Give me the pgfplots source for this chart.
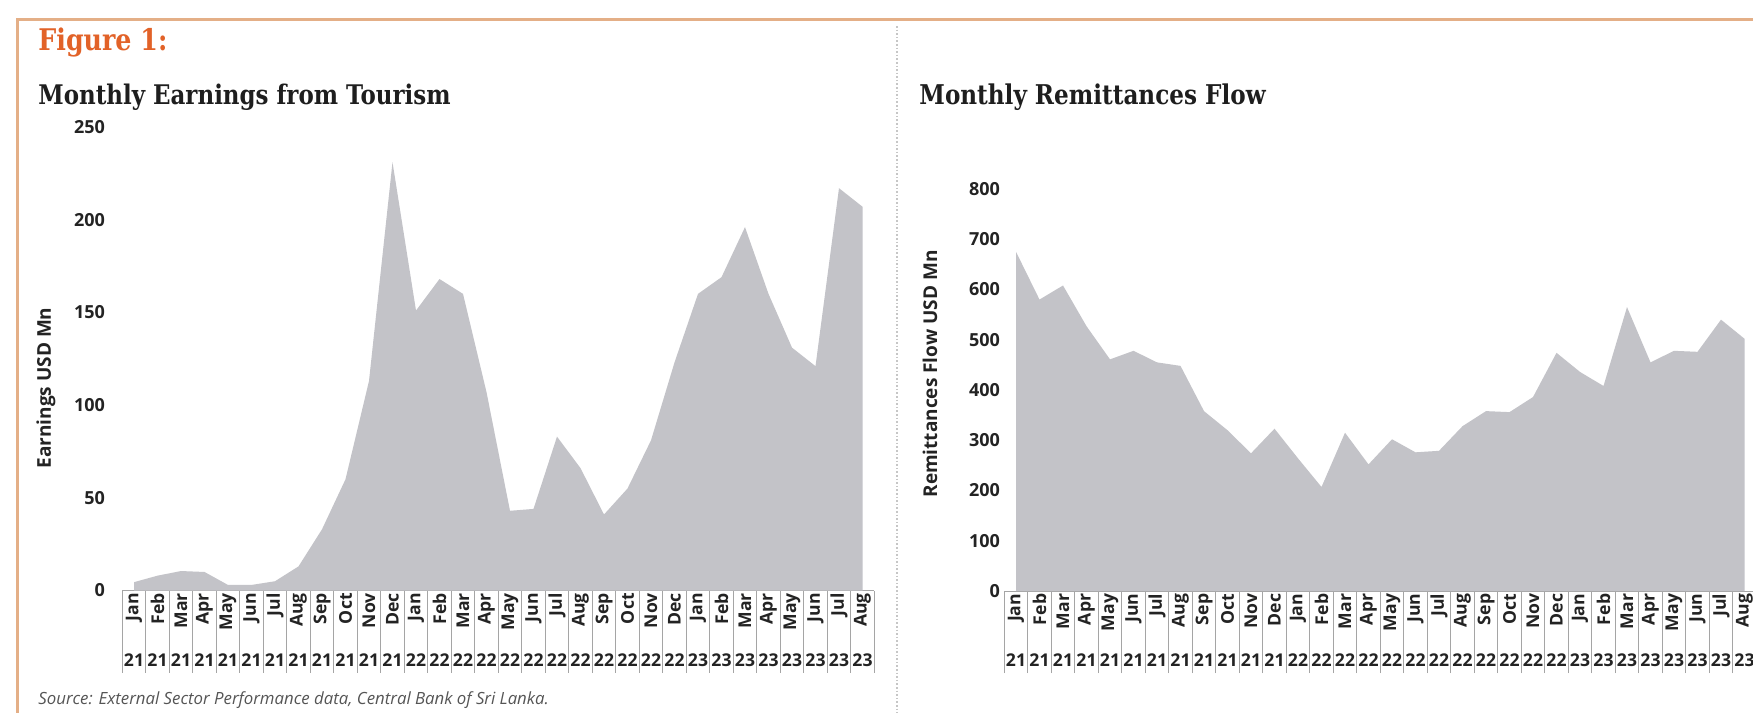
\documentclass[border=0pt]{standalone}
\usepackage{fontspec}
\setmainfont{Open Sans}
\newfontfamily\slab[FakeStretch=0.85]{DejaVu Serif}
\usepackage{pgfplots}
\pgfplotsset{compat=1.18}
\usepackage{pgfplotstable}

\definecolor{areac}{RGB}{195,195,200}
\definecolor{tickc}{RGB}{35,35,35}
\definecolor{titlec}{RGB}{30,30,30}
\definecolor{figc}{RGB}{226,98,40}
\definecolor{framec}{RGB}{228,175,135}
\definecolor{cellc}{RGB}{165,165,165}
\definecolor{srcc}{RGB}{85,85,85}

\pgfplotstableread{
i v
0 4.5
1 8
2 10.5
3 10
4 3
5 3
6 5
7 13
8 33
9 60
10 113
11 231
12 151
13 168
14 160
15 107
16 43
17 44
18 83
19 66
20 41
21 55
22 81
23 123
24 160
25 169
26 196
27 160
28 131
29 121
30 217
31 207
}\tourism

\pgfplotstableread{
i v
0 675
1 580
2 608
3 527
4 461
5 478
6 455
7 448
8 358
9 320
10 274
11 323
12 264
13 207
14 315
15 252
16 302
17 276
18 279
19 328
20 358
21 356
22 386
23 474
24 436
25 408
26 565
27 455
28 478
29 476
30 540
31 502
}\remit

\newcommand\ml[2]{\rotatebox{90}{\makebox[23.5bp][r]{#1}}\\[3.5bp]#2}

\pgfplotsset{
  base/.style={
    scale only axis,
    width=376bp,
    xmin=-0.5, xmax=31.5, ymin=0,
    axis x line=bottom, axis y line=left,
    axis line style={-},
    x axis line style={draw=cellc, line width=0.5bp},
    y axis line style={draw=none},
    tick align=outside,
    major tick length=0pt,
    minor tick length=41bp,
    major x tick style={draw=none},
    major y tick style={draw=none},
    minor x tick style={draw=cellc, line width=0.5bp},
    xtick={0,...,31},
    minor xtick={-0.5,0.5,...,31.5},
    xticklabels={{\ml{Jan}{21}},{\ml{Feb}{21}},{\ml{Mar}{21}},{\ml{Apr}{21}},{\ml{May}{21}},{\ml{Jun}{21}},{\ml{Jul}{21}},{\ml{Aug}{21}},{\ml{Sep}{21}},{\ml{Oct}{21}},{\ml{Nov}{21}},{\ml{Dec}{21}},
      {\ml{Jan}{22}},{\ml{Feb}{22}},{\ml{Mar}{22}},{\ml{Apr}{22}},{\ml{May}{22}},{\ml{Jun}{22}},{\ml{Jul}{22}},{\ml{Aug}{22}},{\ml{Sep}{22}},{\ml{Oct}{22}},{\ml{Nov}{22}},{\ml{Dec}{22}},
      {\ml{Jan}{23}},{\ml{Feb}{23}},{\ml{Mar}{23}},{\ml{Apr}{23}},{\ml{May}{23}},{\ml{Jun}{23}},{\ml{Jul}{23}},{\ml{Aug}{23}}},
    xticklabel style={font=\fontsize{8.8bp}{9.5bp}\selectfont\bfseries, align=center, anchor=north, inner sep=1.2bp, text=tickc},
    yticklabel style={font=\fontsize{9bp}{10bp}\selectfont\bfseries, anchor=east, inner sep=1bp, text=tickc},
    ylabel style={font=\fontsize{9.5bp}{10bp}\selectfont\bfseries, text=tickc, anchor=center},
    /pgf/number format/assume math mode=true,
  }
}

\begin{document}
\begin{tikzpicture}
\useasboundingbox (0,0) rectangle (876.5bp,-356.5bp);
\fill[white] (0,0) rectangle (876.5bp,-356.5bp);
\draw[framec, line width=1.5bp] (8.5bp,-360bp) -- (8.5bp,-9.5bp) -- (880bp,-9.5bp);
\draw[gray!45, densely dotted, line width=0.8bp] (448.5bp,-13bp) -- (448.5bp,-356.5bp);

\node[anchor=base west, inner sep=0, text=figc, font=\slab\bfseries\fontsize{14.9bp}{16bp}\selectfont] at (19bp,-25bp) {Figure 1:};
\node[anchor=base west, inner sep=0, text=titlec, font=\slab\bfseries\fontsize{13.5bp}{15bp}\selectfont] at (19bp,-52bp) {Monthly Earnings from Tourism};
\node[anchor=base west, inner sep=0, text=titlec, font=\slab\bfseries\fontsize{13.6bp}{15bp}\selectfont] at (459.5bp,-52bp) {Monthly Remittances Flow};
\node[anchor=base west, inner sep=0, text=srcc, font=\itshape\fontsize{8.4bp}{9bp}\selectfont] at (19bp,-352bp) {Source: External Sector Performance data, Central Bank of Sri Lanka.};

\begin{axis}[base,
  at={(61.125bp,-295.25bp)}, anchor=south west,
  height=231.75bp, ymax=250,
  ytick={0,50,...,250},
  yticklabel style={xshift=-7.5bp},
  ylabel={Earnings USD Mn},
  ylabel style={at={(axis description cs:-0.1014,0.437)}},
]
\addplot[fill=areac, draw=none] table[x=i, y=v] {\tourism} \closedcycle;
\end{axis}

\begin{axis}[base,
  at={(502.125bp,-295.5bp)}, anchor=south west,
  height=201bp, ymax=800,
  ytick={0,100,...,800},
  yticklabel style={xshift=-1bp},
  ylabel={Remittances Flow USD Mn},
  ylabel style={at={(axis description cs:-0.0987,0.54)}},
]
\addplot[fill=areac, draw=none] table[x=i, y=v] {\remit} \closedcycle;
\end{axis}
\end{tikzpicture}
\end{document}
